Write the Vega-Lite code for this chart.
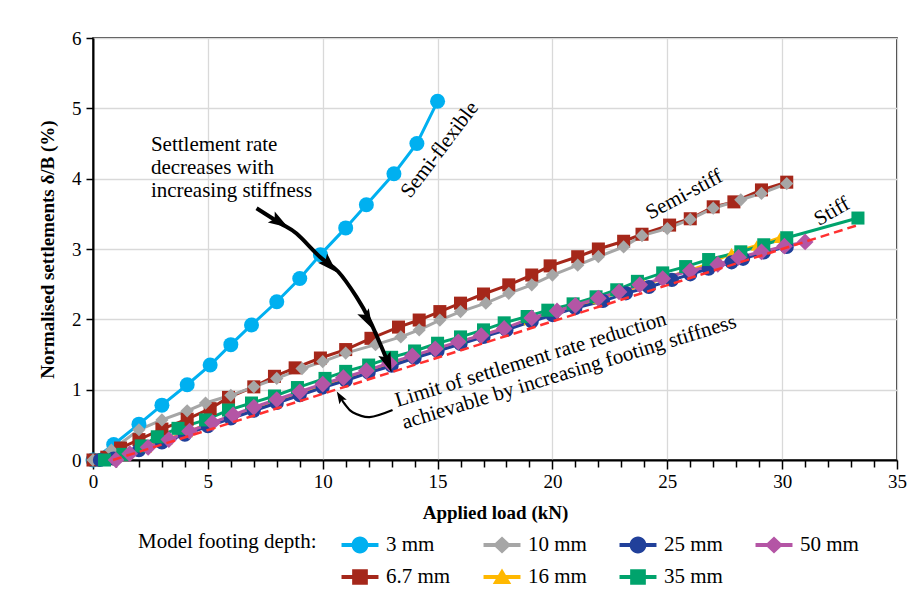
{
  "$schema": "https://vega.github.io/schema/vega-lite/v6.json",
  "width": 804,
  "height": 422,
  "autosize": {"type": "none"},
  "padding": {"left": 93, "top": 38, "right": 22, "bottom": 153},
  "background": "white",
  "config": {
    "font": "Liberation Serif",
    "view": {"stroke": "black", "strokeWidth": 1.5},
    "axis": {
      "labelFont": "Liberation Serif", "titleFont": "Liberation Serif",
      "labelColor": "black", "titleColor": "black",
      "domainColor": "black", "tickColor": "black",
      "labelFontSize": 19, "titleFontSize": 19, "titleFontWeight": "bold",
      "domainWidth": 2, "tickWidth": 1.5,
      "gridColor": "#D9D9D9", "gridWidth": 1.3
    }
  },
  "datasets": {
    "series": [
      {"depth": "3 mm", "load": 0, "settlement": 0},
      {"depth": "3 mm", "load": 0.9, "settlement": 0.22},
      {"depth": "3 mm", "load": 2.0, "settlement": 0.51},
      {"depth": "3 mm", "load": 3.0, "settlement": 0.78},
      {"depth": "3 mm", "load": 4.1, "settlement": 1.07},
      {"depth": "3 mm", "load": 5.1, "settlement": 1.35},
      {"depth": "3 mm", "load": 6.0, "settlement": 1.64},
      {"depth": "3 mm", "load": 6.9, "settlement": 1.92},
      {"depth": "3 mm", "load": 8.0, "settlement": 2.25},
      {"depth": "3 mm", "load": 9.0, "settlement": 2.58},
      {"depth": "3 mm", "load": 9.9, "settlement": 2.92},
      {"depth": "3 mm", "load": 11.0, "settlement": 3.30},
      {"depth": "3 mm", "load": 11.9, "settlement": 3.63},
      {"depth": "3 mm", "load": 13.1, "settlement": 4.07},
      {"depth": "3 mm", "load": 14.1, "settlement": 4.50},
      {"depth": "3 mm", "load": 15.0, "settlement": 5.10},

      {"depth": "6.7 mm", "load": 0, "settlement": 0},
      {"depth": "6.7 mm", "load": 0.6, "settlement": 0.04},
      {"depth": "6.7 mm", "load": 1.2, "settlement": 0.17},
      {"depth": "6.7 mm", "load": 2.0, "settlement": 0.29},
      {"depth": "6.7 mm", "load": 3.0, "settlement": 0.44},
      {"depth": "6.7 mm", "load": 4.1, "settlement": 0.58},
      {"depth": "6.7 mm", "load": 5.1, "settlement": 0.73},
      {"depth": "6.7 mm", "load": 5.9, "settlement": 0.89},
      {"depth": "6.7 mm", "load": 7.0, "settlement": 1.04},
      {"depth": "6.7 mm", "load": 7.9, "settlement": 1.19},
      {"depth": "6.7 mm", "load": 8.8, "settlement": 1.31},
      {"depth": "6.7 mm", "load": 9.9, "settlement": 1.45},
      {"depth": "6.7 mm", "load": 11.0, "settlement": 1.57},
      {"depth": "6.7 mm", "load": 12.1, "settlement": 1.73},
      {"depth": "6.7 mm", "load": 13.3, "settlement": 1.89},
      {"depth": "6.7 mm", "load": 14.2, "settlement": 1.99},
      {"depth": "6.7 mm", "load": 15.1, "settlement": 2.11},
      {"depth": "6.7 mm", "load": 16.0, "settlement": 2.23},
      {"depth": "6.7 mm", "load": 17.0, "settlement": 2.36},
      {"depth": "6.7 mm", "load": 18.1, "settlement": 2.49},
      {"depth": "6.7 mm", "load": 19.1, "settlement": 2.63},
      {"depth": "6.7 mm", "load": 19.9, "settlement": 2.76},
      {"depth": "6.7 mm", "load": 21.1, "settlement": 2.89},
      {"depth": "6.7 mm", "load": 22.0, "settlement": 3.00},
      {"depth": "6.7 mm", "load": 23.1, "settlement": 3.11},
      {"depth": "6.7 mm", "load": 23.9, "settlement": 3.21},
      {"depth": "6.7 mm", "load": 25.1, "settlement": 3.34},
      {"depth": "6.7 mm", "load": 26.0, "settlement": 3.43},
      {"depth": "6.7 mm", "load": 27.0, "settlement": 3.60},
      {"depth": "6.7 mm", "load": 27.9, "settlement": 3.67},
      {"depth": "6.7 mm", "load": 29.1, "settlement": 3.84},
      {"depth": "6.7 mm", "load": 30.2, "settlement": 3.95},

      {"depth": "10 mm", "load": 0, "settlement": 0},
      {"depth": "10 mm", "load": 0.8, "settlement": 0.14},
      {"depth": "10 mm", "load": 2.0, "settlement": 0.43},
      {"depth": "10 mm", "load": 3.0, "settlement": 0.57},
      {"depth": "10 mm", "load": 4.1, "settlement": 0.70},
      {"depth": "10 mm", "load": 4.9, "settlement": 0.81},
      {"depth": "10 mm", "load": 6.0, "settlement": 0.92},
      {"depth": "10 mm", "load": 7.0, "settlement": 1.04},
      {"depth": "10 mm", "load": 8.0, "settlement": 1.16},
      {"depth": "10 mm", "load": 9.1, "settlement": 1.30},
      {"depth": "10 mm", "load": 10.0, "settlement": 1.40},
      {"depth": "10 mm", "load": 11.0, "settlement": 1.52},
      {"depth": "10 mm", "load": 12.3, "settlement": 1.64},
      {"depth": "10 mm", "load": 13.4, "settlement": 1.75},
      {"depth": "10 mm", "load": 14.2, "settlement": 1.85},
      {"depth": "10 mm", "load": 15.1, "settlement": 1.99},
      {"depth": "10 mm", "load": 16.0, "settlement": 2.11},
      {"depth": "10 mm", "load": 17.1, "settlement": 2.23},
      {"depth": "10 mm", "load": 18.1, "settlement": 2.37},
      {"depth": "10 mm", "load": 19.1, "settlement": 2.49},
      {"depth": "10 mm", "load": 20.0, "settlement": 2.63},
      {"depth": "10 mm", "load": 21.1, "settlement": 2.77},
      {"depth": "10 mm", "load": 22.0, "settlement": 2.89},
      {"depth": "10 mm", "load": 23.1, "settlement": 3.03},
      {"depth": "10 mm", "load": 23.9, "settlement": 3.19},
      {"depth": "10 mm", "load": 25.0, "settlement": 3.29},
      {"depth": "10 mm", "load": 26.0, "settlement": 3.42},
      {"depth": "10 mm", "load": 27.0, "settlement": 3.58},
      {"depth": "10 mm", "load": 28.2, "settlement": 3.70},
      {"depth": "10 mm", "load": 29.1, "settlement": 3.79},
      {"depth": "10 mm", "load": 30.2, "settlement": 3.93},

      {"depth": "16 mm", "load": 0.6, "settlement": 0},
      {"depth": "16 mm", "load": 1.4, "settlement": 0.07},
      {"depth": "16 mm", "load": 2.3, "settlement": 0.18},
      {"depth": "16 mm", "load": 3.2, "settlement": 0.29},
      {"depth": "16 mm", "load": 4.1, "settlement": 0.40},
      {"depth": "16 mm", "load": 5.1, "settlement": 0.52},
      {"depth": "16 mm", "load": 6.0, "settlement": 0.62},
      {"depth": "16 mm", "load": 7.0, "settlement": 0.73},
      {"depth": "16 mm", "load": 8.0, "settlement": 0.84},
      {"depth": "16 mm", "load": 9.0, "settlement": 0.95},
      {"depth": "16 mm", "load": 10.0, "settlement": 1.06},
      {"depth": "16 mm", "load": 11.0, "settlement": 1.16},
      {"depth": "16 mm", "load": 12.0, "settlement": 1.27},
      {"depth": "16 mm", "load": 13.0, "settlement": 1.37},
      {"depth": "16 mm", "load": 14.0, "settlement": 1.48},
      {"depth": "16 mm", "load": 15.0, "settlement": 1.58},
      {"depth": "16 mm", "load": 16.0, "settlement": 1.68},
      {"depth": "16 mm", "load": 17.0, "settlement": 1.78},
      {"depth": "16 mm", "load": 18.0, "settlement": 1.88},
      {"depth": "16 mm", "load": 19.0, "settlement": 1.99},
      {"depth": "16 mm", "load": 20.0, "settlement": 2.09},
      {"depth": "16 mm", "load": 21.0, "settlement": 2.19},
      {"depth": "16 mm", "load": 22.0, "settlement": 2.29},
      {"depth": "16 mm", "load": 23.0, "settlement": 2.39},
      {"depth": "16 mm", "load": 24.0, "settlement": 2.49},
      {"depth": "16 mm", "load": 25.0, "settlement": 2.60},
      {"depth": "16 mm", "load": 26.0, "settlement": 2.70},
      {"depth": "16 mm", "load": 26.9, "settlement": 2.80},
      {"depth": "16 mm", "load": 27.8, "settlement": 2.94},
      {"depth": "16 mm", "load": 28.9, "settlement": 3.05},
      {"depth": "16 mm", "load": 29.9, "settlement": 3.16},

      {"depth": "25 mm", "load": 0.3, "settlement": 0},
      {"depth": "25 mm", "load": 0.9, "settlement": 0.02},
      {"depth": "25 mm", "load": 2.0, "settlement": 0.14},
      {"depth": "25 mm", "load": 3.0, "settlement": 0.25},
      {"depth": "25 mm", "load": 4.0, "settlement": 0.36},
      {"depth": "25 mm", "load": 5.0, "settlement": 0.48},
      {"depth": "25 mm", "load": 6.0, "settlement": 0.59},
      {"depth": "25 mm", "load": 7.0, "settlement": 0.70},
      {"depth": "25 mm", "load": 8.0, "settlement": 0.81},
      {"depth": "25 mm", "load": 9.0, "settlement": 0.92},
      {"depth": "25 mm", "load": 10.0, "settlement": 1.03},
      {"depth": "25 mm", "load": 11.0, "settlement": 1.13},
      {"depth": "25 mm", "load": 12.0, "settlement": 1.24},
      {"depth": "25 mm", "load": 13.0, "settlement": 1.34},
      {"depth": "25 mm", "load": 14.0, "settlement": 1.45},
      {"depth": "25 mm", "load": 15.0, "settlement": 1.55},
      {"depth": "25 mm", "load": 16.0, "settlement": 1.65},
      {"depth": "25 mm", "load": 17.0, "settlement": 1.75},
      {"depth": "25 mm", "load": 18.0, "settlement": 1.85},
      {"depth": "25 mm", "load": 19.1, "settlement": 1.97},
      {"depth": "25 mm", "load": 20.0, "settlement": 2.06},
      {"depth": "25 mm", "load": 21.0, "settlement": 2.16},
      {"depth": "25 mm", "load": 22.2, "settlement": 2.26},
      {"depth": "25 mm", "load": 23.2, "settlement": 2.37},
      {"depth": "25 mm", "load": 24.2, "settlement": 2.46},
      {"depth": "25 mm", "load": 25.2, "settlement": 2.56},
      {"depth": "25 mm", "load": 26.0, "settlement": 2.64},
      {"depth": "25 mm", "load": 26.8, "settlement": 2.72},
      {"depth": "25 mm", "load": 27.8, "settlement": 2.81},
      {"depth": "25 mm", "load": 28.3, "settlement": 2.86},
      {"depth": "25 mm", "load": 29.2, "settlement": 2.95},
      {"depth": "25 mm", "load": 30.2, "settlement": 3.03},

      {"depth": "35 mm", "load": 0.5, "settlement": 0},
      {"depth": "35 mm", "load": 1.3, "settlement": 0.08},
      {"depth": "35 mm", "load": 2.1, "settlement": 0.20},
      {"depth": "35 mm", "load": 2.8, "settlement": 0.33},
      {"depth": "35 mm", "load": 3.7, "settlement": 0.45},
      {"depth": "35 mm", "load": 4.9, "settlement": 0.57},
      {"depth": "35 mm", "load": 5.9, "settlement": 0.71},
      {"depth": "35 mm", "load": 6.9, "settlement": 0.81},
      {"depth": "35 mm", "load": 7.9, "settlement": 0.91},
      {"depth": "35 mm", "load": 8.9, "settlement": 1.03},
      {"depth": "35 mm", "load": 10.1, "settlement": 1.16},
      {"depth": "35 mm", "load": 11.0, "settlement": 1.26},
      {"depth": "35 mm", "load": 12.0, "settlement": 1.35},
      {"depth": "35 mm", "load": 13.0, "settlement": 1.46},
      {"depth": "35 mm", "load": 14.0, "settlement": 1.55},
      {"depth": "35 mm", "load": 15.0, "settlement": 1.66},
      {"depth": "35 mm", "load": 16.0, "settlement": 1.75},
      {"depth": "35 mm", "load": 17.0, "settlement": 1.85},
      {"depth": "35 mm", "load": 17.9, "settlement": 1.95},
      {"depth": "35 mm", "load": 18.9, "settlement": 2.04},
      {"depth": "35 mm", "load": 19.8, "settlement": 2.13},
      {"depth": "35 mm", "load": 20.9, "settlement": 2.22},
      {"depth": "35 mm", "load": 21.9, "settlement": 2.32},
      {"depth": "35 mm", "load": 22.8, "settlement": 2.42},
      {"depth": "35 mm", "load": 23.7, "settlement": 2.54},
      {"depth": "35 mm", "load": 24.8, "settlement": 2.66},
      {"depth": "35 mm", "load": 25.8, "settlement": 2.75},
      {"depth": "35 mm", "load": 26.8, "settlement": 2.85},
      {"depth": "35 mm", "load": 28.2, "settlement": 2.96},
      {"depth": "35 mm", "load": 29.2, "settlement": 3.06},
      {"depth": "35 mm", "load": 30.2, "settlement": 3.16},
      {"depth": "35 mm", "load": 33.3, "settlement": 3.44},

      {"depth": "50 mm", "load": 1.0, "settlement": 0},
      {"depth": "50 mm", "load": 1.6, "settlement": 0.09},
      {"depth": "50 mm", "load": 2.4, "settlement": 0.18},
      {"depth": "50 mm", "load": 3.3, "settlement": 0.29},
      {"depth": "50 mm", "load": 4.2, "settlement": 0.41},
      {"depth": "50 mm", "load": 5.2, "settlement": 0.53},
      {"depth": "50 mm", "load": 6.1, "settlement": 0.64},
      {"depth": "50 mm", "load": 7.0, "settlement": 0.75},
      {"depth": "50 mm", "load": 8.0, "settlement": 0.86},
      {"depth": "50 mm", "load": 9.0, "settlement": 0.97},
      {"depth": "50 mm", "load": 10.0, "settlement": 1.08},
      {"depth": "50 mm", "load": 10.9, "settlement": 1.17},
      {"depth": "50 mm", "load": 11.9, "settlement": 1.27},
      {"depth": "50 mm", "load": 12.9, "settlement": 1.38},
      {"depth": "50 mm", "load": 13.9, "settlement": 1.48},
      {"depth": "50 mm", "load": 14.9, "settlement": 1.58},
      {"depth": "50 mm", "load": 15.9, "settlement": 1.68},
      {"depth": "50 mm", "load": 16.9, "settlement": 1.77},
      {"depth": "50 mm", "load": 17.9, "settlement": 1.87},
      {"depth": "50 mm", "load": 19.1, "settlement": 2.02},
      {"depth": "50 mm", "load": 20.2, "settlement": 2.12},
      {"depth": "50 mm", "load": 21.0, "settlement": 2.20},
      {"depth": "50 mm", "load": 22.0, "settlement": 2.30},
      {"depth": "50 mm", "load": 22.9, "settlement": 2.39},
      {"depth": "50 mm", "load": 23.8, "settlement": 2.49},
      {"depth": "50 mm", "load": 24.8, "settlement": 2.58},
      {"depth": "50 mm", "load": 26.0, "settlement": 2.69},
      {"depth": "50 mm", "load": 27.2, "settlement": 2.78},
      {"depth": "50 mm", "load": 28.1, "settlement": 2.88},
      {"depth": "50 mm", "load": 29.1, "settlement": 2.96},
      {"depth": "50 mm", "load": 30.1, "settlement": 3.04},
      {"depth": "50 mm", "load": 31.0, "settlement": 3.10}
    ],
    "limit": [
      {"load": 0.87, "settlement": 0},
      {"load": 33.3, "settlement": 3.34}
    ],
    "arrow1": [
      {"i": 1, "load": 7.12, "settlement": 3.58},
      {"i": 2, "load": 8.13, "settlement": 3.37},
      {"i": 3, "load": 8.86, "settlement": 3.22},
      {"i": 4, "load": 9.87, "settlement": 2.89},
      {"i": 5, "load": 10.67, "settlement": 2.68},
      {"i": 6, "load": 11.47, "settlement": 2.32},
      {"i": 7, "load": 12.04, "settlement": 1.99},
      {"i": 8, "load": 12.62, "settlement": 1.56},
      {"i": 9, "load": 12.9, "settlement": 1.33}
    ],
    "arrow2": [
      {"i": 1, "load": 13.04, "settlement": 0.71},
      {"i": 2, "load": 12.04, "settlement": 0.61},
      {"i": 3, "load": 11.3, "settlement": 0.68},
      {"i": 4, "load": 10.95, "settlement": 0.8},
      {"i": 5, "load": 10.8, "settlement": 0.88}
    ],
    "heads": [
      {"id": 1, "load": 8.13, "settlement": 3.38},
      {"id": 2, "load": 10.3, "settlement": 2.77},
      {"id": 3, "load": 11.96, "settlement": 1.99},
      {"id": 4, "load": 12.84, "settlement": 1.38},
      {"id": 5, "load": 10.75, "settlement": 0.9}
    ],
    "notes": [
      {"id": "rate", "text": "Settlement rate\ndecreases with\nincreasing stiffness", "load": 2.52, "settlement": 4.4},
      {"id": "flex", "text": "Semi-flexible", "load": 15.1, "settlement": 4.41},
      {"id": "semi", "text": "Semi-stiff", "load": 25.74, "settlement": 3.77},
      {"id": "stiff", "text": "Stiff", "load": 32.17, "settlement": 3.53},
      {"id": "limit", "text": "Limit of settlement rate reduction\nachievable by increasing footing stiffness", "load": 13.26, "settlement": 0.754}
    ]
  },
  "encoding": {
    "x": {
      "field": "load", "type": "quantitative",
      "scale": {"domain": [0, 35], "nice": false, "zero": false},
      "axis": {
        "title": "Applied load (kN)",
        "values": [0,1,2,3,4,5,6,7,8,9,10,11,12,13,14,15,16,17,18,19,20,21,22,23,24,25,26,27,28,29,30,31,32,33,34,35],
        "labelExpr": "datum.value % 5 === 0 ? datum.label : ''",
        "labelOverlap": false,
        "labelFlush": false,
        "tickSize": {"condition": {"test": "datum.value % 5 === 0", "value": 9}, "value": 7},
        "gridOpacity": {"condition": {"test": "datum.value % 5 === 0", "value": 1}, "value": 0},
        "labelPadding": 3,
        "titlePadding": 12
      }
    },
    "y": {
      "field": "settlement", "type": "quantitative",
      "scale": {"domain": [0, 6], "nice": false},
      "axis": {
        "title": "Normalised settlements δ/B (%)",
        "values": [0,1,2,3,4,5,6],
        "tickSize": 7,
        "labelPadding": 5,
        "titlePadding": 14
      }
    }
  },
  "layer": [
    {
      "data": {"name": "series"},
      "mark": {"type": "line", "strokeWidth": 3},
      "encoding": {
        "color": {
          "field": "depth", "type": "nominal",
          "scale": {
            "domain": ["3 mm","10 mm","25 mm","50 mm","6.7 mm","16 mm","35 mm"],
            "range": ["#00B0F0","#A6A6A6","#21409A","#B455A5","#A5271A","#FFB800","#00A36C"]
          },
          "legend": {
            "title": "Model footing depth:",
            "orient": "none",
            "legendX": 45,
            "legendY": 493,
            "direction": "horizontal",
            "columns": 4,
            "titleOrient": "left",
            "titleAnchor": "start",
            "titleBaseline": "top",
            "titleFont": "Liberation Serif",
            "titleFontSize": 21,
            "titleFontWeight": "normal",
            "titleColor": "black",
            "titlePadding": 29,
            "labelFont": "Liberation Serif",
            "labelFontSize": 21,
            "labelColor": "black",
            "symbolSize": 784,
            "symbolOpacity": 1,
            "symbolStrokeWidth": 0,
            "labelOffset": 12,
            "columnPadding": 32,
            "rowPadding": 8
          }
        }
      }
    },
    {
      "data": {"name": "series"},
      "mark": {"type": "point", "filled": true, "opacity": 0},
      "encoding": {
        "color": {"field": "depth", "type": "nominal"},
        "shape": {
          "field": "depth", "type": "nominal",
          "scale": {
            "domain": ["3 mm","10 mm","25 mm","50 mm","6.7 mm","16 mm","35 mm"],
            "range": [
              "M-1.32,-0.14H1.32V0.14H-1.32ZM-0.6,0A0.6,0.6 0 1,1 0.6,0A0.6,0.6 0 1,1 -0.6,0Z",
              "M-1.32,-0.14H1.32V0.14H-1.32ZM-0.64,0L0,-0.6L0.64,0L0,0.6Z",
              "M-1.32,-0.14H1.32V0.14H-1.32ZM-0.6,0A0.6,0.6 0 1,1 0.6,0A0.6,0.6 0 1,1 -0.6,0Z",
              "M-1.32,-0.14H1.32V0.14H-1.32ZM-0.64,0L0,-0.6L0.64,0L0,0.6Z",
              "M-1.32,-0.14H1.32V0.14H-1.32ZM-0.56,-0.56H0.56V0.56H-0.56Z",
              "M-1.32,-0.14H1.32V0.14H-1.32ZM0,-0.6L0.66,0.5H-0.66Z",
              "M-1.32,-0.14H1.32V0.14H-1.32ZM-0.56,-0.56H0.56V0.56H-0.56Z"
            ]
          },
          "legend": null
        }
      }
    },
    {
      "data": {"name": "series"},
      "transform": [{"filter": "datum.depth === '3 mm'"}],
      "mark": {"type": "point", "filled": true, "opacity": 1, "shape": "circle", "size": 225},
      "encoding": {"color": {"field": "depth", "type": "nominal"}}
    },
    {
      "data": {"name": "series"},
      "transform": [{"filter": "datum.depth === '6.7 mm'"}],
      "mark": {"type": "point", "filled": true, "opacity": 1, "shape": "square", "size": 170},
      "encoding": {"color": {"field": "depth", "type": "nominal"}}
    },
    {
      "data": {"name": "series"},
      "transform": [{"filter": "datum.depth === '10 mm'"}],
      "mark": {"type": "point", "filled": true, "opacity": 1, "shape": "diamond", "size": 175},
      "encoding": {"color": {"field": "depth", "type": "nominal"}}
    },
    {
      "data": {"name": "series"},
      "transform": [{"filter": "datum.depth === '16 mm'"}],
      "mark": {"type": "point", "filled": true, "opacity": 1, "shape": "triangle-up", "size": 150},
      "encoding": {"color": {"field": "depth", "type": "nominal"}}
    },
    {
      "data": {"name": "series"},
      "transform": [{"filter": "datum.depth === '25 mm'"}],
      "mark": {"type": "point", "filled": true, "opacity": 1, "shape": "circle", "size": 200},
      "encoding": {"color": {"field": "depth", "type": "nominal"}}
    },
    {
      "data": {"name": "series"},
      "transform": [{"filter": "datum.depth === '35 mm'"}],
      "mark": {"type": "point", "filled": true, "opacity": 1, "shape": "square", "size": 170},
      "encoding": {"color": {"field": "depth", "type": "nominal"}}
    },
    {
      "data": {"name": "series"},
      "transform": [{"filter": "datum.depth === '50 mm'"}],
      "mark": {"type": "point", "filled": true, "opacity": 1, "shape": "diamond", "size": 280},
      "encoding": {"color": {"field": "depth", "type": "nominal"}}
    },
    {
      "data": {"name": "limit"},
      "mark": {"type": "line", "color": "#FF3030", "strokeWidth": 2.5, "strokeDash": [9, 5]},
      "encoding": {}
    },
    {
      "data": {"name": "arrow1"},
      "mark": {"type": "line", "color": "black", "strokeWidth": 4, "interpolate": "cardinal"},
      "encoding": {"order": {"field": "i", "type": "quantitative"}}
    },
    {
      "data": {"name": "arrow2"},
      "mark": {"type": "line", "color": "black", "strokeWidth": 2.2, "interpolate": "cardinal"},
      "encoding": {"order": {"field": "i", "type": "quantitative"}}
    },
    {
      "data": {"name": "heads"},
      "transform": [{"filter": "datum.id === 1"}],
      "mark": {"type": "point", "filled": true, "color": "black", "opacity": 1, "shape": "M1,0L-1,-0.65L-0.6,0L-1,0.65Z", "size": 400, "angle": 32}
    },
    {
      "data": {"name": "heads"},
      "transform": [{"filter": "datum.id === 2"}],
      "mark": {"type": "point", "filled": true, "color": "black", "opacity": 1, "shape": "M1,0L-1,-0.65L-0.6,0L-1,0.65Z", "size": 400, "angle": 45}
    },
    {
      "data": {"name": "heads"},
      "transform": [{"filter": "datum.id === 3"}],
      "mark": {"type": "point", "filled": true, "color": "black", "opacity": 1, "shape": "M1,0L-1,-0.65L-0.6,0L-1,0.65Z", "size": 400, "angle": 62}
    },
    {
      "data": {"name": "heads"},
      "transform": [{"filter": "datum.id === 4"}],
      "mark": {"type": "point", "filled": true, "color": "black", "opacity": 1, "shape": "M1,0L-1,-0.65L-0.6,0L-1,0.65Z", "size": 400, "angle": 69}
    },
    {
      "data": {"name": "heads"},
      "transform": [{"filter": "datum.id === 5"}],
      "mark": {"type": "point", "filled": true, "color": "black", "opacity": 1, "shape": "M1,0L-1,-0.7L-0.6,0L-1,0.7Z", "size": 150, "angle": -121}
    },
    {
      "data": {"name": "notes"},
      "transform": [{"filter": "datum.id === 'rate'"}],
      "mark": {"type": "text", "align": "left", "baseline": "alphabetic", "fontSize": 21, "lineHeight": 23, "lineBreak": "\n", "color": "black", "font": "Liberation Serif"},
      "encoding": {"text": {"field": "text"}}
    },
    {
      "data": {"name": "notes"},
      "transform": [{"filter": "datum.id === 'flex'"}],
      "mark": {"type": "text", "align": "center", "baseline": "middle", "fontSize": 21, "angle": -53, "color": "black", "font": "Liberation Serif"},
      "encoding": {"text": {"field": "text"}}
    },
    {
      "data": {"name": "notes"},
      "transform": [{"filter": "datum.id === 'semi'"}],
      "mark": {"type": "text", "align": "center", "baseline": "middle", "fontSize": 21, "angle": -28, "color": "black", "font": "Liberation Serif"},
      "encoding": {"text": {"field": "text"}}
    },
    {
      "data": {"name": "notes"},
      "transform": [{"filter": "datum.id === 'stiff'"}],
      "mark": {"type": "text", "align": "center", "baseline": "middle", "fontSize": 21, "angle": -30, "color": "black", "font": "Liberation Serif"},
      "encoding": {"text": {"field": "text"}}
    },
    {
      "data": {"name": "notes"},
      "transform": [{"filter": "datum.id === 'limit'"}],
      "mark": {"type": "text", "align": "left", "baseline": "alphabetic", "fontSize": 21, "lineHeight": 23, "lineBreak": "\n", "angle": -17, "color": "black", "font": "Liberation Serif"},
      "encoding": {"text": {"field": "text"}}
    }
  ]
}
